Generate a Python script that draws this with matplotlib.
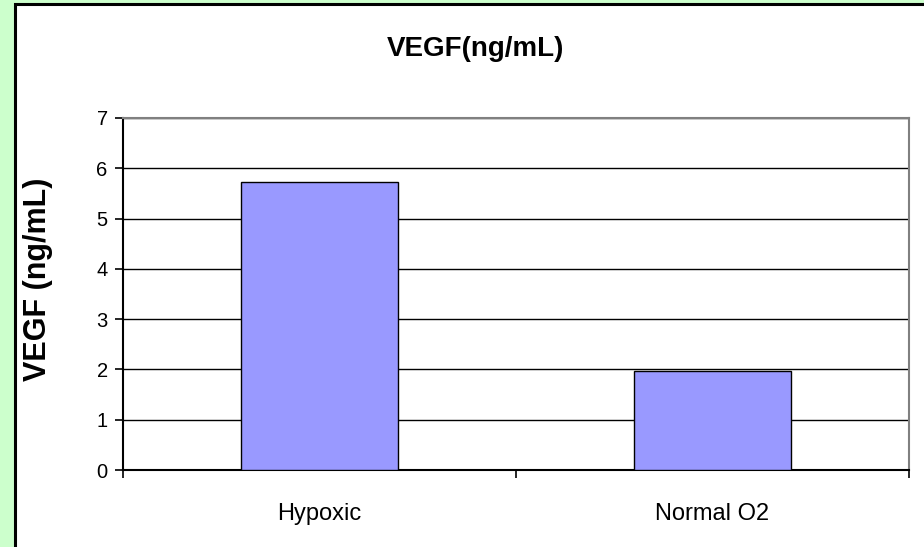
import numpy as np
import matplotlib.pyplot as plt
from matplotlib.patches import Rectangle

# datos
categorias = ["Hypoxic", "Normal O2"]
vegf = [5.73, 1.97]

C_FONDO = "#CCFFCC"
C_BARRA = "#9999FF"

plt.rcParams["font.family"] = ["Liberation Sans", "DejaVu Sans"]

fig = plt.figure(figsize=(9.24, 5.47), dpi=100, facecolor=C_FONDO)

# recuadro blanco del area del grafico (tipo Excel)
fig.patches.append(Rectangle((15 / 924, -0.1), 1.2, 1.1 - 4 / 547,
                             transform=fig.transFigure, facecolor="white",
                             edgecolor="black", linewidth=2.2, zorder=-5))

ax = fig.add_axes([123 / 924, 77 / 547, 786 / 924, 352 / 547])
ax.set_zorder(2)
ax.set_facecolor("white")

x = np.arange(len(categorias))
ax.bar(x, vegf, width=0.4, color=C_BARRA, edgecolor="black", linewidth=1.0, zorder=3)

ax.set_xlim(-0.5, len(categorias) - 0.5)
ax.set_ylim(0, 7)
ax.set_yticks(range(0, 8))
ax.yaxis.grid(True, color="black", linewidth=1.0, zorder=1)
ax.set_axisbelow(True)

ax.set_xticks(x)
ax.set_xticklabels(categorias, fontsize=17)
ax.set_xticks(np.arange(-0.5, len(categorias)), minor=True)
ax.tick_params(axis="x", which="major", length=0, pad=24)
ax.tick_params(axis="x", which="minor", length=6, width=1.2, color="black")
ax.tick_params(axis="y", length=6, width=1.2, labelsize=14.5, pad=5)

for s in ["top", "right"]:
    ax.spines[s].set_color("#808080")
    ax.spines[s].set_linewidth(1.5)
for s in ["left", "bottom"]:
    ax.spines[s].set_color("black")
    ax.spines[s].set_linewidth(1.5)

fig.text(0.515, 0.91, "VEGF(ng/mL)", ha="center", va="center",
         fontsize=20, fontweight="bold")
fig.text(38 / 924, 0.49, "VEGF (ng/mL)", ha="center", va="center",
         rotation=90, fontsize=22, fontweight="bold")

fig.savefig("out.png", dpi=100, facecolor=C_FONDO)
